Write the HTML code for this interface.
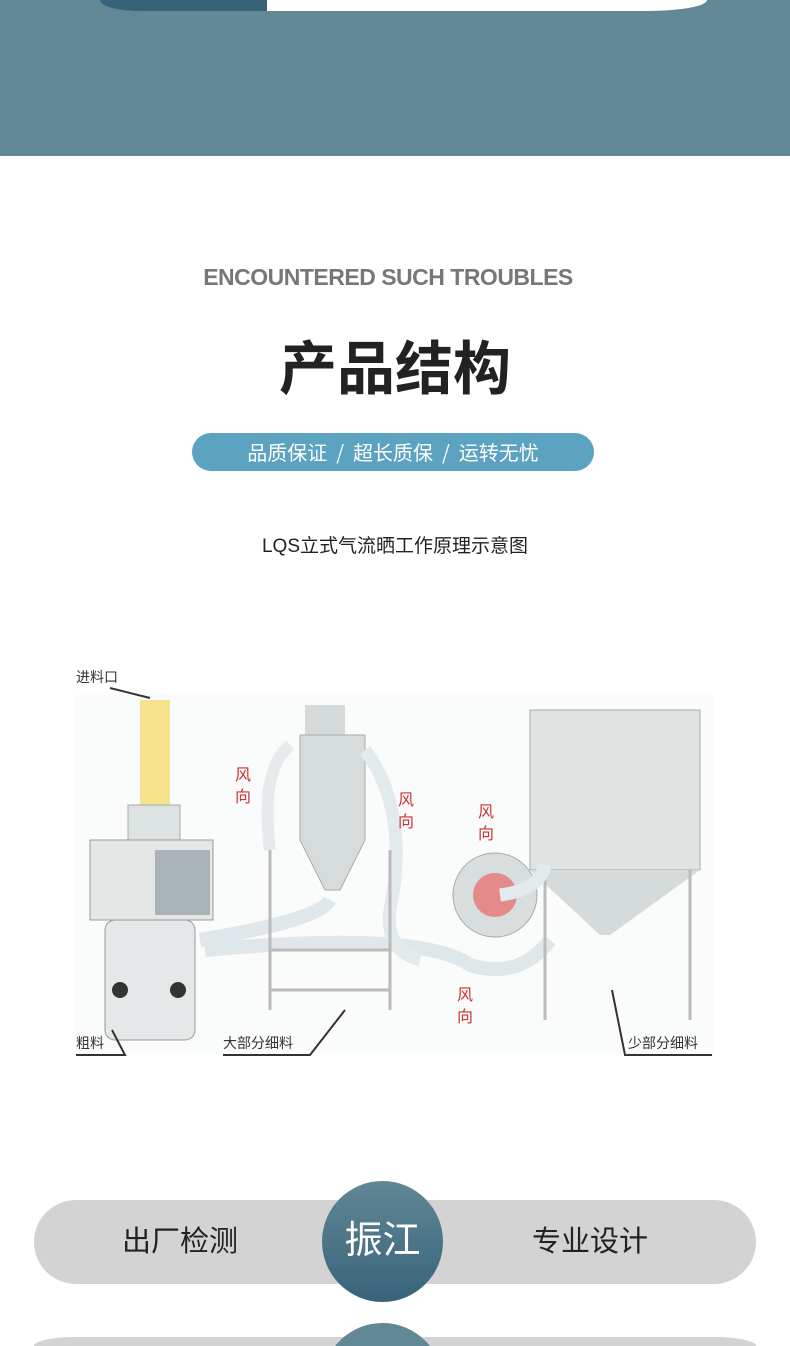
<!DOCTYPE html>
<html><head><meta charset="utf-8"><style>
html,body{margin:0;width:790px;height:1346px;overflow:hidden;background:#fff;font-family:"Liberation Sans","Noto Sans CJK SC",sans-serif}
#w{position:relative;width:790px;height:1346px;overflow:hidden}
.a{position:absolute}
</style></head><body><div id="w">
<div class="a" style="left:0;top:0;width:790px;height:156px;background:#628795"></div>
<div class="a" style="left:100px;top:0;width:260px;height:11px;background:#37637a;border-radius:0 0 0 40px/0 0 0 11px"></div>
<div class="a" style="left:267px;top:0;width:440px;height:11px;background:#fff;border-radius:0 0 60px 0/0 0 11px 0"></div>
<div class="a" style="left:0;top:264px;width:776px;text-align:center;font-size:23px;font-weight:bold;color:#777;letter-spacing:-0.5px">ENCOUNTERED SUCH TROUBLES</div>
<div class="a" style="left:0;top:322px;width:790px;text-align:center;font-size:58px;font-weight:bold;color:#222;font-family:'Noto Sans CJK SC',sans-serif">产品结构</div>
<div class="a" style="left:192px;top:433px;width:402px;height:38px;border-radius:19px;background:#5ba3c0;color:#fff;font-size:20px;line-height:38px;text-align:center;font-family:'Noto Sans CJK SC',sans-serif;white-space:pre">品质保证  /  超长质保  /  运转无忧</div>
<div class="a" style="left:0;top:531px;width:790px;text-align:center;font-size:19px;color:#222;font-family:'Liberation Sans','Noto Sans CJK SC',sans-serif">LQS立式气流晒工作原理示意图</div>
<svg class="a" style="left:0;top:650px" width="790" height="420" font-family="Noto Sans CJK SC,sans-serif">
<rect x="75" y="45" width="640" height="360" fill="#fafbfb"/>
<text x="76" y="32" font-size="14" fill="#333">进料口</text>
<line x1="110" y1="38" x2="150" y2="48" stroke="#333" stroke-width="2"/>
<rect x="140" y="50" width="30" height="105" fill="#f4d860" opacity=".7"/>
<rect x="128" y="155" width="52" height="35" fill="#dde3e2" stroke="#aaa"/>
<rect x="90" y="190" width="123" height="80" fill="#e3e8e7" stroke="#999"/>
<rect x="155" y="200" width="55" height="65" fill="#aab4b8"/>
<rect x="105" y="270" width="90" height="120" rx="10" fill="#e4e8e8" stroke="#999"/>
<circle cx="120" cy="340" r="8" fill="#333"/><circle cx="178" cy="340" r="8" fill="#333"/>
<path d="M200 290 Q320 270 330 250 M205 300 Q420 280 470 315 Q520 330 550 290" stroke="#dfe7ea" stroke-width="14" fill="none"/>
<path d="M290 95 Q260 120 270 200" stroke="#e5ebed" stroke-width="12" fill="none"/>
<rect x="305" y="55" width="40" height="30" fill="#d3dad9"/>
<polygon points="300,85 365,85 365,190 340,240 325,240 300,190" fill="#d6dcdb" stroke="#aaa"/>
<path d="M365 100 Q410 160 390 260 Q385 300 420 310" stroke="#e3eaec" stroke-width="13" fill="none"/>
<path d="M270 200 L270 360 M390 200 L390 360 M270 300 L390 300 M270 340 L390 340" stroke="#bbb" stroke-width="3"/>
<rect x="530" y="60" width="170" height="160" fill="#dfe4e3" stroke="#aaa"/>
<polygon points="530,220 700,220 610,285 600,285" fill="#d5dbdb"/>
<path d="M545 220 L545 370 M690 220 L690 370" stroke="#bbb" stroke-width="3"/>
<circle cx="495" cy="245" r="42" fill="#d8dddd" stroke="#aaa"/>
<circle cx="495" cy="245" r="22" fill="#e58a8a"/>
<path d="M500 245 Q540 240 545 215" stroke="#e3eaec" stroke-width="13" fill="none"/>
<text x="235" y="130" font-size="16" fill="#c33">风</text><text x="235" y="152" font-size="16" fill="#c33">向</text>
<text x="398" y="155" font-size="16" fill="#c33">风</text><text x="398" y="177" font-size="16" fill="#c33">向</text>
<text x="478" y="167" font-size="16" fill="#c33">风</text><text x="478" y="189" font-size="16" fill="#c33">向</text>
<text x="457" y="350" font-size="16" fill="#c33">风</text><text x="457" y="372" font-size="16" fill="#c33">向</text>
<text x="76" y="398" font-size="14" fill="#333">粗料</text>
<path d="M76 405 L125 405 L112 380" stroke="#333" stroke-width="2" fill="none"/>
<text x="223" y="398" font-size="14" fill="#333">大部分细料</text>
<path d="M223 405 L310 405 L345 360" stroke="#333" stroke-width="2" fill="none"/>
<text x="628" y="398" font-size="14" fill="#333">少部分细料</text>
<path d="M712 405 L625 405 L612 340" stroke="#333" stroke-width="2" fill="none"/>
</svg>
<div class="a" style="left:34px;top:1200px;width:722px;height:84px;border-radius:42px;background:#d3d3d3"></div>
<div class="a" style="left:34px;top:1200px;width:292px;height:84px;line-height:84px;text-align:center;font-size:29px;color:#222">出厂检测</div>
<div class="a" style="left:440px;top:1200px;width:300px;height:84px;line-height:84px;text-align:center;font-size:29px;color:#222">专业设计</div>
<div class="a" style="left:322px;top:1181px;width:121px;height:121px;border-radius:50%;background:linear-gradient(#628795,#37637a);color:#fff;font-size:38px;line-height:121px;text-align:center">振江</div>
<div class="a" style="left:34px;top:1337px;width:722px;height:9px;border-radius:42px 42px 0 0/9px 9px 0 0;background:#d3d3d3"></div>
<svg class="a" style="left:322px;top:1323px" width="121" height="23"><circle cx="60.5" cy="60.5" r="60.5" fill="#628795"/></svg>
</div></body></html>
